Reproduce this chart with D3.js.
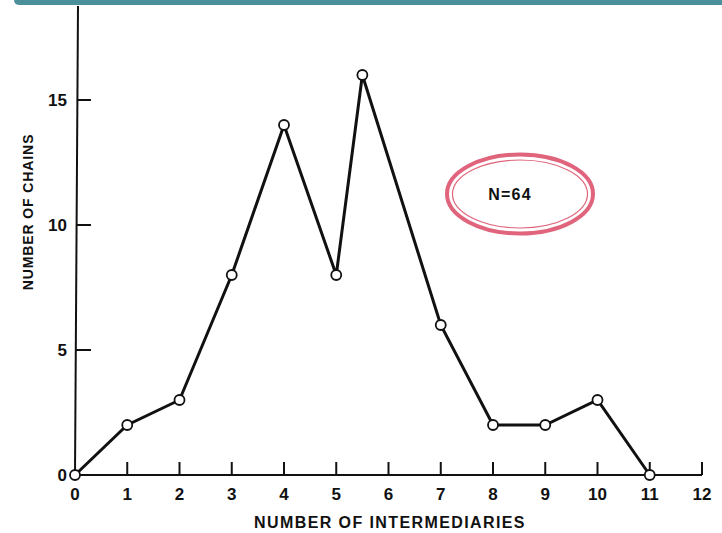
<!DOCTYPE html>
<html><head><meta charset="utf-8">
<script src="https://cdn.jsdelivr.net/npm/d3@7"></script>
<style>
html,body{margin:0;padding:0;background:#fff;}
svg{display:block;}
text{font-family:"Liberation Sans","DejaVu Sans",sans-serif;font-weight:bold;fill:#111;}
</style></head><body>
<svg id="c" width="722" height="533"></svg>
<script>
const intermediaries = [0, 1, 2, 3, 4, 5, 5.5, 7, 8, 9, 10, 11];
const chains = [0, 2, 3, 8, 14, 8, 16, 6, 2, 2, 3, 0];
const xTicks = [0,1,2,3,4,5,6,7,8,9,10,11,12];
const yTicks = [0,5,10,15];
const xLabel = "NUMBER OF INTERMEDIARIES";
const yLabel = "NUMBER OF CHAINS";
const note = "N=64";

const svg = d3.select("#c");
// teal header bar
svg.append("path")
  .attr("d","M14,0 L722,0 L722,5 L20,5 Q14,5 14,0 Z")
  .attr("fill","#4b8f9b");

const x = d3.scaleLinear().domain([0,12]).range([75,702]);
const y = d3.scaleLinear().domain([0,15]).range([475,100]);

const ink = "#111";
// y axis line
svg.append("line").attr("x1",x(0)).attr("x2",x(0)+3).attr("y1",y(0)).attr("y2",6)
  .attr("stroke",ink).attr("stroke-width",2);
// x axis line
svg.append("line").attr("x1",x(0)).attr("x2",x(12)).attr("y1",y(0)).attr("y2",y(0))
  .attr("stroke",ink).attr("stroke-width",2);

// x ticks
const gx = svg.append("g");
gx.selectAll("line").data(xTicks.filter(d=>d>0)).join("line")
  .attr("x1",d=>x(d)).attr("x2",d=>x(d)).attr("y1",y(0)).attr("y2",y(0)-13)
  .attr("stroke",ink).attr("stroke-width",2);
gx.selectAll("text").data(xTicks).join("text")
  .attr("x",d=>x(d)).attr("y",y(0)+25).attr("text-anchor","middle")
  .attr("font-size",17).text(d=>d);

// y ticks
const gy = svg.append("g");
gy.selectAll("line").data(yTicks.filter(d=>d>0)).join("line")
  .attr("x1",d=>x(0)+ (3*(y(0)-y(d))/(y(0)-6))).attr("x2",d=>x(0)+16).attr("y1",d=>y(d)).attr("y2",d=>y(d))
  .attr("stroke",ink).attr("stroke-width",2);
gy.selectAll("text").data(yTicks).join("text")
  .attr("x",x(0)-8).attr("y",d=>y(d)+6).attr("text-anchor","end")
  .attr("font-size",17).text(d=>d);

// axis titles
svg.append("text").attr("x",390).attr("y",528).attr("text-anchor","middle")
  .attr("font-size",16).attr("letter-spacing",1.4).text(xLabel);
svg.append("text").attr("transform","translate(33,212) rotate(-90)").attr("text-anchor","middle")
  .attr("font-size",14).attr("letter-spacing",0.9).text(yLabel);

// data line
const pts = intermediaries.map((d,i)=>[d,chains[i]]);
svg.append("path").datum(pts)
  .attr("d",d3.line().x(d=>x(d[0])).y(d=>y(d[1])))
  .attr("fill","none").attr("stroke",ink).attr("stroke-width",3).attr("stroke-linejoin","miter");
svg.selectAll("circle.pt").data(pts).join("circle").attr("class","pt")
  .attr("cx",d=>x(d[0])).attr("cy",d=>y(d[1])).attr("r",5)
  .attr("fill","#fff").attr("stroke",ink).attr("stroke-width",1.8);

// N=64 annotation
const ex = 520, ey = 194;
svg.append("ellipse").attr("cx",ex).attr("cy",ey).attr("rx",73).attr("ry",39.5)
  .attr("fill","#fff").attr("stroke","#e0657c").attr("stroke-width",4);
svg.append("ellipse").attr("cx",ex).attr("cy",ey).attr("rx",67.5).attr("ry",34)
  .attr("fill","none").attr("stroke","#e0657c").attr("stroke-width",1.2);
svg.append("text").attr("x",510).attr("y",ey+6).attr("text-anchor","middle")
  .attr("font-size",16).attr("letter-spacing",1.2).text(note);
</script>
</body></html>
